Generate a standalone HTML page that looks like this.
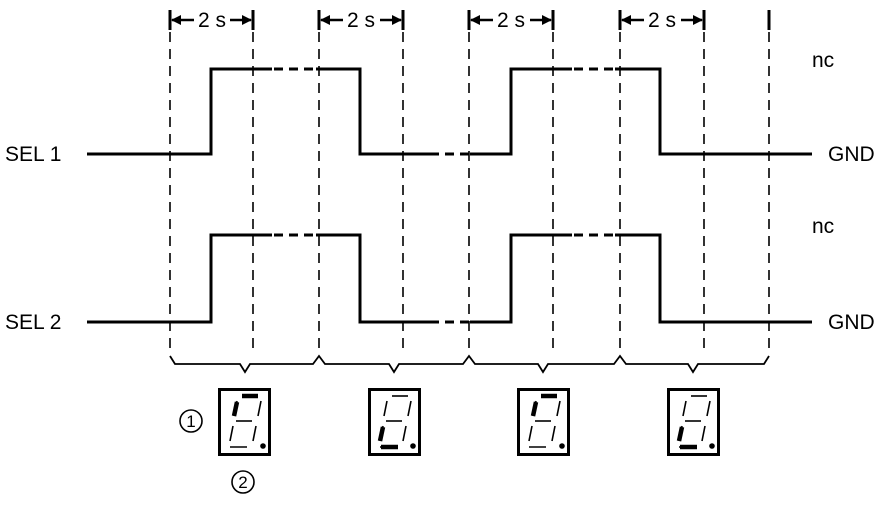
<!DOCTYPE html>
<html><head><meta charset="utf-8"><style>body{margin:0;background:#fff}</style></head><body>
<svg width="896" height="503" viewBox="0 0 896 503" xmlns="http://www.w3.org/2000/svg" font-family="Liberation Sans, sans-serif">
<defs>
<marker id="ah" markerWidth="10" markerHeight="10" refX="9" refY="5" orient="auto" markerUnits="userSpaceOnUse"><path d="M0,0 L10,5 L0,10z" fill="#000"/></marker>
</defs>
<g stroke="#000" stroke-width="1.6" stroke-dasharray="10,7" fill="none">
<line x1="170" y1="32" x2="170" y2="355"/><line x1="253" y1="32" x2="253" y2="355"/>
<line x1="319" y1="32" x2="319" y2="355"/><line x1="403" y1="32" x2="403" y2="355"/>
<line x1="469" y1="32" x2="469" y2="355"/><line x1="553" y1="32" x2="553" y2="355"/>
<line x1="620" y1="32" x2="620" y2="355"/><line x1="704" y1="32" x2="704" y2="355"/>
<line x1="769" y1="32" x2="769" y2="355"/>
</g>
<g stroke="#000" stroke-width="3">
<line x1="170" y1="10" x2="170" y2="30"/><line x1="253" y1="10" x2="253" y2="30"/>
<line x1="319" y1="10" x2="319" y2="30"/><line x1="403" y1="10" x2="403" y2="30"/>
<line x1="469" y1="10" x2="469" y2="30"/><line x1="553" y1="10" x2="553" y2="30"/>
<line x1="620" y1="10" x2="620" y2="30"/><line x1="704" y1="10" x2="704" y2="30"/>
<line x1="769" y1="10" x2="769" y2="30"/>
</g>
<g stroke="#000" stroke-width="2.5">
<line x1="194" y1="20" x2="172" y2="20" marker-end="url(#ah)"/><line x1="230" y1="20" x2="251" y2="20" marker-end="url(#ah)"/>
<line x1="343" y1="20" x2="321" y2="20" marker-end="url(#ah)"/><line x1="380" y1="20" x2="401" y2="20" marker-end="url(#ah)"/>
<line x1="493" y1="20" x2="471" y2="20" marker-end="url(#ah)"/><line x1="530" y1="20" x2="551" y2="20" marker-end="url(#ah)"/>
<line x1="644" y1="20" x2="622" y2="20" marker-end="url(#ah)"/><line x1="681" y1="20" x2="702" y2="20" marker-end="url(#ah)"/>
</g>
<g font-size="21" text-anchor="middle">
<text x="212" y="27">2 s</text><text x="361" y="27">2 s</text><text x="511" y="27">2 s</text><text x="662" y="27">2 s</text>
</g>
<g stroke="#000" stroke-width="3" fill="none">
<polyline points="87,154 211,154 211,69 272,69"/><polyline points="316,69 360,69 360,154 430,154"/>
<polyline points="470,154 511,154 511,69 572,69"/><polyline points="615,69 660,69 660,154 812,154"/>
<polyline points="87,322 211,322 211,235 272,235"/><polyline points="316,235 360,235 360,322 430,322"/>
<polyline points="470,322 511,322 511,235 572,235"/><polyline points="615,235 660,235 660,322 812,322"/>
</g>
<g stroke="#000" stroke-width="3" stroke-dasharray="9,6">
<line x1="274" y1="69" x2="316" y2="69"/><line x1="430" y1="154" x2="470" y2="154"/><line x1="574" y1="69" x2="615" y2="69"/>
<line x1="274" y1="235" x2="316" y2="235"/><line x1="430" y1="322" x2="470" y2="322"/><line x1="574" y1="235" x2="615" y2="235"/>
</g>
<g font-size="21">
<text x="5" y="161">SEL 1</text><text x="5" y="329">SEL 2</text>
<text x="812" y="67">nc</text><text x="828" y="161">GND</text>
<text x="812" y="233">nc</text><text x="828" y="329">GND</text>
</g>
<path d="M170,356 L175,364 L240,364 L245,372 L250,364 L313,364 L319,356 L325,364 L389,364 L394,372 L399,364 L463,364 L469,356 L475,364 L538,364 L543,372 L548,364 L614,364 L620,356 L626,364 L688,364 L693,372 L698,364 L764,364 L769,356" stroke="#000" stroke-width="1.8" fill="none"/>
<g id="d1" transform="translate(218,388)">
<rect x="1.5" y="1.5" width="50" height="65" fill="none" stroke="#000" stroke-width="3"/>
<g stroke="#000" stroke-width="1.6" fill="none">
<line x1="24" y1="8" x2="40" y2="8"/><line x1="19" y1="13" x2="16" y2="28"/><line x1="43" y1="13" x2="40" y2="28"/>
<line x1="18" y1="33" x2="34" y2="33"/><line x1="15" y1="38" x2="12" y2="53"/><line x1="38" y1="38" x2="35" y2="53"/>
<line x1="12" y1="59" x2="29" y2="59"/></g>
<circle cx="45" cy="58" r="2.8"/>
</g>
<g transform="translate(218,388)" stroke="#000" stroke-width="4.5"><line x1="24" y1="8" x2="40" y2="8"/><line x1="19" y1="14" x2="16" y2="28"/></g>
<use href="#d1" x="150"/><use href="#d1" x="299"/><use href="#d1" x="449"/>
<g transform="translate(368,388)" stroke="#000" stroke-width="4.5"><line x1="15" y1="39" x2="12" y2="53"/><line x1="13" y1="59" x2="30" y2="59"/></g>
<g transform="translate(517,388)" stroke="#000" stroke-width="4.5"><line x1="24" y1="8" x2="40" y2="8"/><line x1="19" y1="14" x2="16" y2="28"/></g>
<g transform="translate(667,388)" stroke="#000" stroke-width="4.5"><line x1="15" y1="39" x2="12" y2="53"/><line x1="13" y1="59" x2="30" y2="59"/></g>
<circle cx="191" cy="421" r="11" fill="none" stroke="#000" stroke-width="1.6"/><text x="191" y="427" font-size="17" text-anchor="middle">1</text>
<circle cx="243" cy="482" r="11" fill="none" stroke="#000" stroke-width="1.6"/><text x="243" y="488" font-size="17" text-anchor="middle">2</text>
</svg>
</body></html>
